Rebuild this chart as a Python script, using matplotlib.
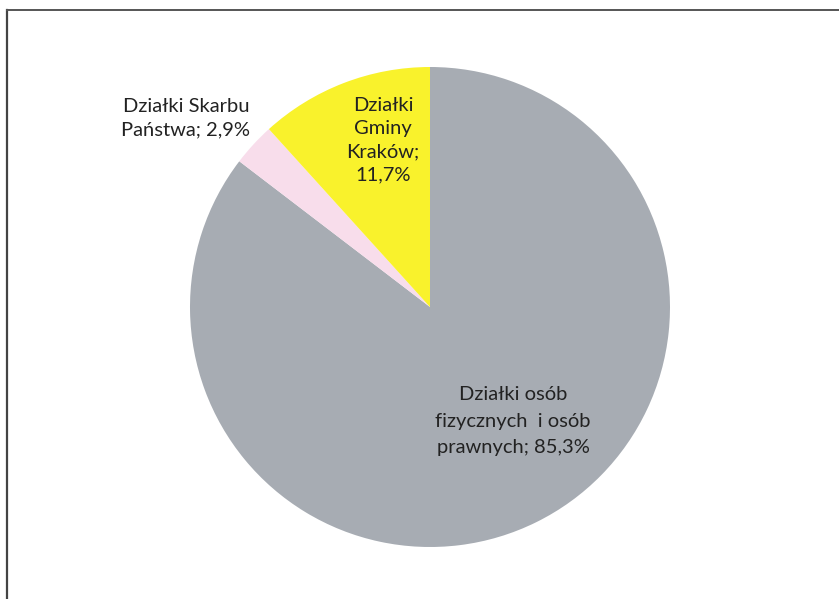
import matplotlib.pyplot as plt
from matplotlib.lines import Line2D

# dane: udział działek wg właściciela
kategorie = ['Działki osób\nfizycznych  i osób\nprawnych', 'Działki Skarbu\nPaństwa', 'Działki\nGminy\nKraków']
udzialy = [85.3, 2.9, 11.7]
etykiety = ['Działki osób\nfizycznych  i osób\nprawnych; 85,3%', 'Działki Skarbu\nPaństwa; 2,9%', 'Działki\nGminy\nKraków;\n11,7%']
kolory = ['#A7ACB3', '#F8DDEB', '#F9F22C']
pozycje_etykiet = [(0.346, -0.475), (-1.017, 0.785), (-0.196, 0.696)]
odstepy = [1.65, 1.45, 1.45]

plt.rcParams['font.family'] = ['Lato', 'DejaVu Sans']

W, H = 839, 599
fig = plt.figure(figsize=(W / 100, H / 100), dpi=100)

# ramka wykresu (skan) - lewa i górna krawędź
fig.add_artist(Line2D([7 / W, 7 / W], [0, 1 - 10 / H], color='#444444', lw=1.6, transform=fig.transFigure))
fig.add_artist(Line2D([7 / W, 1], [1 - 10 / H, 1 - 10 / H], color='#555555', lw=1.4, transform=fig.transFigure))

cx, cy, r = 430, 307, 240
ax = fig.add_axes([(cx - r) / W, (H - cy - r) / H, 2 * r / W, 2 * r / H])
ax.pie(udzialy, colors=kolory, startangle=90, counterclock=False, radius=1,
       wedgeprops={'linewidth': 0})
ax.set_xlim(-1, 1)
ax.set_ylim(-1, 1)
ax.set_aspect('equal')
ax.axis('off')

for tekst, (x, y), ls in zip(etykiety, pozycje_etykiet, odstepy):
    ax.text(x, y, tekst, ha='center', va='center', fontsize=14.5, color='#222222',
            linespacing=ls, clip_on=False)

fig.savefig('out.png', dpi=100)
